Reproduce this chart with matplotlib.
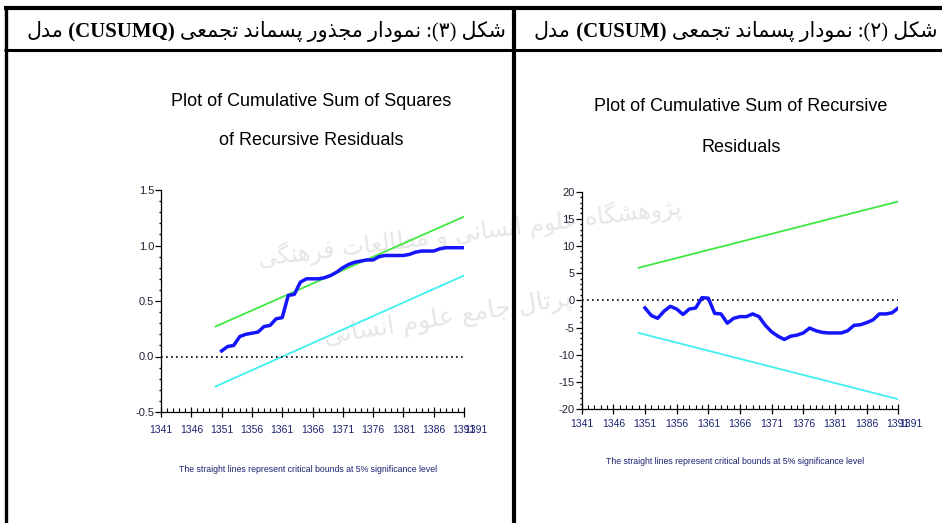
import matplotlib.pyplot as plt
from matplotlib.ticker import MultipleLocator, FixedLocator

# ---- data ----
years = list(range(1351, 1392))

cusumq = [0.05, 0.09, 0.10, 0.18, 0.20, 0.21, 0.22, 0.27, 0.28, 0.34,
          0.35, 0.55, 0.56, 0.67, 0.70, 0.70, 0.70, 0.71, 0.73, 0.76,
          0.80, 0.83, 0.85, 0.86, 0.87, 0.87, 0.90, 0.91, 0.91, 0.91,
          0.91, 0.92, 0.94, 0.95, 0.95, 0.95, 0.97, 0.98, 0.98, 0.98,
          0.98]

cusum = [-1.4, -2.8, -3.3, -2.0, -1.1, -1.6, -2.6, -1.6, -1.4, 0.5,
         0.4, -2.4, -2.5, -4.2, -3.3, -3.0, -3.0, -2.5, -3.0, -4.6,
         -5.8, -6.6, -7.2, -6.6, -6.4, -6.0, -5.1, -5.6, -5.9, -6.0,
         -6.0, -6.0, -5.6, -4.6, -4.5, -4.1, -3.6, -2.5, -2.5, -2.3,
         -1.4]

bound_years = [1350, 1391]
cusumq_upper = [0.27, 1.26]
cusumq_lower = [-0.27, 0.73]
cusum_upper = [6.0, 18.2]
cusum_lower = [-6.0, -18.2]

x_ticks = [1341, 1346, 1351, 1356, 1361, 1366, 1371, 1376, 1381, 1386, 1391]
x_labels = [str(t) for t in x_ticks]
extra_label = '1391'

cusumq_yticks = [-0.5, 0.0, 0.5, 1.0, 1.5]
cusumq_ylabels = ['-0.5', '0.0', '0.5', '1.0', '1.5']
cusum_yticks = [-20, -15, -10, -5, 0, 5, 10, 15, 20]
cusum_ylabels = ['-20', '-15', '-10', '-5', '0', '5', '10', '15', '20']

title_left = 'Plot of Cumulative Sum of Squares\nof Recursive Residuals'
title_right = 'Plot of Cumulative Sum of Recursive\nResiduals'
caption = 'The straight lines represent critical bounds at 5% significance level'

head_left = ['شکل (۳): نمودار مجذور پسماند تجمعی', '(CUSUMQ)', 'مدل']
head_right = ['شکل (۲): نمودار پسماند تجمعی', '(CUSUM)', 'مدل']
watermark = ['پژوهشگاه علوم انسانی و مطالعات فرهنگی', 'پرتال جامع علوم انسانی']

# ---- tiny persian shaping (matplotlib has no bidi / joining) ----
FORMS = {
    'ا': ('\uFE8D', '\uFE8E', None, None),
    'پ': ('\uFB56', '\uFB57', '\uFB58', '\uFB59'),
    'ت': ('\uFE95', '\uFE96', '\uFE97', '\uFE98'),
    'ج': ('\uFE9D', '\uFE9E', '\uFE9F', '\uFEA0'),
    'د': ('\uFEA9', '\uFEAA', None, None),
    'ذ': ('\uFEAB', '\uFEAC', None, None),
    'ر': ('\uFEAD', '\uFEAE', None, None),
    'ژ': ('\uFB8A', '\uFB8B', None, None),
    'س': ('\uFEB1', '\uFEB2', '\uFEB3', '\uFEB4'),
    'ش': ('\uFEB5', '\uFEB6', '\uFEB7', '\uFEB8'),
    'ط': ('\uFEC1', '\uFEC2', '\uFEC3', '\uFEC4'),
    'ع': ('\uFEC9', '\uFECA', '\uFECB', '\uFECC'),
    'ف': ('\uFED1', '\uFED2', '\uFED3', '\uFED4'),
    'ک': ('\uFB8E', '\uFB8F', '\uFB90', '\uFB91'),
    'گ': ('\uFB92', '\uFB93', '\uFB94', '\uFB95'),
    'ل': ('\uFEDD', '\uFEDE', '\uFEDF', '\uFEE0'),
    'م': ('\uFEE1', '\uFEE2', '\uFEE3', '\uFEE4'),
    'ن': ('\uFEE5', '\uFEE6', '\uFEE7', '\uFEE8'),
    'ه': ('\uFEE9', '\uFEEA', '\uFEEB', '\uFEEC'),
    'و': ('\uFEED', '\uFEEE', None, None),
    'ی': ('\uFBFC', '\uFBFD', '\uFBFE', '\uFBFF'),
}
MIRROR = str.maketrans('()', ')(')


def shape(word):
    out = []
    for i, ch in enumerate(word):
        f = FORMS.get(ch)
        if f is None:
            out.append(ch)
            continue
        prev = FORMS.get(word[i - 1]) if i > 0 else None
        nxt = FORMS.get(word[i + 1]) if i < len(word) - 1 else None
        jp = prev is not None and prev[2] is not None
        jn = nxt is not None and f[2] is not None
        if jp and jn:
            out.append(f[3])
        elif jp:
            out.append(f[1])
        elif jn:
            out.append(f[2])
        else:
            out.append(f[0])
    return ''.join(out)


def visual(text):
    parts = []
    for w in text.split(' '):
        if any(c in FORMS for c in w):
            parts.append(shape(w)[::-1])
        elif any(c.isascii() and c.isalpha() for c in w):
            parts.append(w)
        else:
            parts.append(w[::-1].translate(MIRROR))
    return ' '.join(reversed(parts))


sans = ['Liberation Sans', 'DejaVu Sans']
head_font = ['Liberation Serif', 'DejaVu Sans']
navy = '#1b2370'

fig = plt.figure(figsize=(9.42, 5.23), dpi=100)

# page / table frame in pixel coordinates
bg = fig.add_axes([0, 0, 1, 1])
bg.set_xlim(0, 942)
bg.set_ylim(523, 0)
bg.axis('off')

# faint scan watermark
bg.text(470, 232, visual(watermark[0]), ha='center', va='center', fontsize=17,
        color='#e6e6e6', rotation=7, family='DejaVu Sans', zorder=0)
bg.text(448, 318, visual(watermark[1]), ha='center', va='center', fontsize=18,
        color='#e6e6e6', rotation=9, family='DejaVu Sans', zorder=0)

bg.plot([4, 942], [7.5, 7.5], color='black', lw=3.0, solid_capstyle='butt')
bg.plot([4, 942], [50, 50], color='black', lw=2.2, solid_capstyle='butt')
bg.plot([5.5, 5.5], [6, 523], color='black', lw=2.4, solid_capstyle='butt')
bg.plot([514, 514], [6, 523], color='black', lw=3.0, solid_capstyle='butt')


def header(x, pieces):
    t = bg.text(x, 32, visual(pieces[0]), ha='right', va='center',
                fontsize=14.8, family=head_font)
    t = bg.annotate(' ' + pieces[1] + ' ', xy=(0, 0.5), xycoords=t,
                    ha='right', va='center', fontsize=15, fontweight='bold',
                    family=head_font)
    bg.annotate(visual(pieces[2]), xy=(0, 0.5), xycoords=t, ha='right',
                va='center', fontsize=14.8, family=head_font)


header(506, head_left)
header(937, head_right)

bg.text(311, 121, title_left, ha='center', va='center', fontsize=13,
        family=sans, linespacing=2.7)
bg.text(741, 127, title_right, ha='center', va='center', fontsize=13,
        family=sans, linespacing=2.8)
bg.text(308, 469, caption, ha='center', va='center', fontsize=6.3,
        family=sans, color=navy)
bg.text(735, 461, caption, ha='center', va='center', fontsize=6.3,
        family=sans, color=navy)


def panel(rect, vals, upper, lower, ylim, yticks, ylabels, yminor, pad):
    ax = fig.add_axes(rect)
    ax.patch.set_alpha(0)
    ax.plot(bound_years, upper, color='#40e840', lw=1.3)
    ax.plot(bound_years, lower, color='#40f0f0', lw=1.3)
    ax.axhline(0, color='black', ls=(0, (1, 2)), lw=1.2)
    ax.plot(years, vals, color='#1414ff', lw=2.5, solid_joinstyle='round')
    ax.set_xlim(1341, 1391)
    ax.set_ylim(*ylim)
    for s in ['top', 'right']:
        ax.spines[s].set_visible(False)
    for s in ['left', 'bottom']:
        ax.spines[s].set_linewidth(0.9)
    ax.xaxis.set_major_locator(FixedLocator(x_ticks))
    ax.set_xticklabels(x_labels, family=sans, fontsize=7.5, color=navy)
    ax.xaxis.set_minor_locator(MultipleLocator(1))
    ax.set_yticks(yticks)
    ax.set_yticklabels(ylabels, family=sans, fontsize=8, color='#202035')
    ax.yaxis.set_minor_locator(MultipleLocator(yminor))
    ax.tick_params(axis='x', which='major', direction='inout', length=7,
                   width=0.9, pad=pad)
    ax.tick_params(axis='x', which='minor', direction='in', length=3,
                   width=0.8)
    ax.tick_params(axis='y', which='major', direction='out', length=4,
                   width=0.9, pad=1)
    ax.tick_params(axis='y', which='minor', direction='out', length=1.2,
                   width=1.0)
    ax.annotate(extra_label, xy=(1393.0, 0), xycoords=ax.get_xaxis_transform(),
                xytext=(0, -(pad + 3.5)), textcoords='offset points',
                ha='center', va='top', family=sans, fontsize=7.5, color=navy,
                annotation_clip=False)
    return ax


panel([161 / 942, 1 - 412 / 523, 303 / 942, 222 / 523], cusumq,
      cusumq_upper, cusumq_lower, (-0.5, 1.5), cusumq_yticks, cusumq_ylabels,
      0.1, 6)
panel([581.7 / 942, 1 - 409 / 523, 316.6 / 942, 217.3 / 523], cusum,
      cusum_upper, cusum_lower, (-20, 20), cusum_yticks, cusum_ylabels, 1, 4)

fig.savefig('out.png', dpi=100)
